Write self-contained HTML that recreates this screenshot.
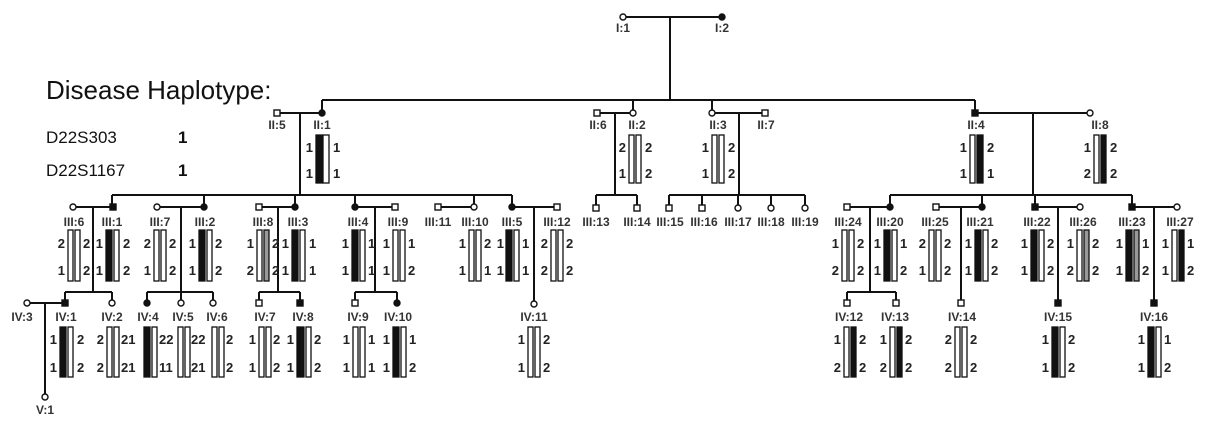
<!DOCTYPE html>
<html><head><meta charset="utf-8"><style>
html,body{margin:0;padding:0;background:#fff;}
svg{display:block;}
.l{font:bold 12px "Liberation Sans",sans-serif;fill:#333;text-anchor:middle;}
.n{font:bold 13px "Liberation Sans",sans-serif;fill:#222;}
</style></head><body>
<svg width="1207" height="424" viewBox="0 0 1207 424" xmlns="http://www.w3.org/2000/svg">
<g font-family="Liberation Sans, sans-serif" fill="#111">
<text x="46" y="99" font-size="26">Disease Haplotype:</text>
<text x="46" y="143" font-size="17">D22S303</text>
<text x="178" y="143" font-size="17" font-weight="bold">1</text>
<text x="46" y="176" font-size="17">D22S1167</text>
<text x="178" y="176" font-size="17" font-weight="bold">1</text>
</g>
<g stroke="#111" stroke-width="2" fill="none">
<line x1="623" y1="17" x2="722" y2="17"/><line x1="670" y1="17" x2="670" y2="100"/>
<line x1="322" y1="100" x2="975" y2="100"/>
<line x1="322" y1="100" x2="322" y2="113"/><line x1="633" y1="100" x2="633" y2="113"/><line x1="712" y1="100" x2="712" y2="113"/><line x1="975" y1="100" x2="975" y2="113"/>
<line x1="277" y1="113" x2="322" y2="113"/><line x1="300" y1="113" x2="300" y2="195"/>
<line x1="597" y1="113" x2="633" y2="113"/><line x1="615" y1="113" x2="615" y2="195"/>
<line x1="712" y1="113" x2="765" y2="113"/><line x1="739" y1="113" x2="739" y2="195"/>
<line x1="975" y1="113" x2="1090" y2="113"/><line x1="1033" y1="113" x2="1033" y2="195"/>
<line x1="112" y1="195" x2="512" y2="195"/>
<line x1="112" y1="195" x2="112" y2="207"/><line x1="204" y1="195" x2="204" y2="207"/><line x1="295" y1="195" x2="295" y2="207"/><line x1="355" y1="195" x2="355" y2="207"/><line x1="474" y1="195" x2="474" y2="207"/><line x1="512" y1="195" x2="512" y2="207"/>
<line x1="596" y1="195" x2="637" y2="195"/><line x1="596" y1="195" x2="596" y2="207"/><line x1="637" y1="195" x2="637" y2="207"/>
<line x1="669" y1="195" x2="805" y2="195"/>
<line x1="669" y1="195" x2="669" y2="207"/><line x1="702" y1="195" x2="702" y2="207"/><line x1="738" y1="195" x2="738" y2="207"/><line x1="771" y1="195" x2="771" y2="207"/><line x1="805" y1="195" x2="805" y2="207"/>
<line x1="890" y1="195" x2="1132" y2="195"/>
<line x1="890" y1="195" x2="890" y2="207"/><line x1="982" y1="195" x2="982" y2="207"/><line x1="1035" y1="195" x2="1035" y2="207"/><line x1="1132" y1="195" x2="1132" y2="207"/>
<line x1="73" y1="207" x2="113" y2="207"/><line x1="93" y1="207" x2="93" y2="292"/>
<line x1="157" y1="207" x2="204" y2="207"/><line x1="181" y1="207" x2="181" y2="292"/>
<line x1="259" y1="207" x2="295" y2="207"/><line x1="278" y1="207" x2="278" y2="292"/>
<line x1="355" y1="207" x2="395" y2="207"/><line x1="375" y1="207" x2="375" y2="292"/>
<line x1="438" y1="207" x2="474" y2="207"/>
<line x1="512" y1="207" x2="557" y2="207"/><line x1="534" y1="207" x2="534" y2="302"/>
<line x1="847" y1="207" x2="890" y2="207"/><line x1="870" y1="207" x2="870" y2="292"/>
<line x1="936" y1="207" x2="982" y2="207"/><line x1="961" y1="207" x2="961" y2="303"/>
<line x1="1035" y1="207" x2="1080" y2="207"/><line x1="1058" y1="207" x2="1058" y2="303"/>
<line x1="1132" y1="207" x2="1177" y2="207"/><line x1="1154" y1="207" x2="1154" y2="303"/>
<line x1="65" y1="292" x2="112" y2="292"/><line x1="65" y1="292" x2="65" y2="303"/><line x1="112" y1="292" x2="112" y2="303"/>
<line x1="147" y1="292" x2="213" y2="292"/><line x1="147" y1="292" x2="147" y2="303"/><line x1="181" y1="292" x2="181" y2="303"/><line x1="213" y1="292" x2="213" y2="303"/>
<line x1="259" y1="292" x2="300" y2="292"/><line x1="259" y1="292" x2="259" y2="303"/><line x1="300" y1="292" x2="300" y2="303"/>
<line x1="355" y1="292" x2="397" y2="292"/><line x1="355" y1="292" x2="355" y2="303"/><line x1="397" y1="292" x2="397" y2="303"/>
<line x1="847" y1="292" x2="896" y2="292"/><line x1="847" y1="292" x2="847" y2="303"/><line x1="896" y1="292" x2="896" y2="303"/>
<line x1="27" y1="303" x2="65" y2="303"/><line x1="45" y1="303" x2="45" y2="397"/>
</g>
<g stroke="#111" stroke-width="1.4">
<circle cx="623" cy="17" r="3" fill="#fff"/><circle cx="722" cy="17" r="3" fill="#111"/>
<rect x="274" y="110" width="6" height="6" fill="#fff"/><circle cx="322" cy="113" r="3" fill="#111"/>
<rect x="594" y="110" width="6" height="6" fill="#fff"/><circle cx="633" cy="113" r="3" fill="#fff"/>
<circle cx="712" cy="113" r="3" fill="#fff"/><rect x="762" y="110" width="6" height="6" fill="#fff"/>
<rect x="972" y="110" width="6" height="6" fill="#111"/><circle cx="1090" cy="113" r="3" fill="#fff"/>
<circle cx="73" cy="207" r="3" fill="#fff"/><rect x="110" y="204" width="6" height="6" fill="#111"/>
<circle cx="157" cy="207" r="3" fill="#fff"/><circle cx="204" cy="207" r="3" fill="#111"/>
<rect x="256" y="204" width="6" height="6" fill="#fff"/><circle cx="295" cy="207" r="3" fill="#111"/>
<circle cx="355" cy="207" r="3" fill="#111"/><rect x="392" y="204" width="6" height="6" fill="#fff"/>
<rect x="435" y="204" width="6" height="6" fill="#fff"/><circle cx="474" cy="207" r="3" fill="#fff"/>
<circle cx="512" cy="207" r="3" fill="#111"/><rect x="554" y="204" width="6" height="6" fill="#fff"/>
<rect x="593" y="205" width="6" height="6" fill="#fff"/><rect x="634" y="205" width="6" height="6" fill="#fff"/>
<rect x="666" y="205" width="6" height="6" fill="#fff"/><rect x="699" y="205" width="6" height="6" fill="#fff"/>
<circle cx="738" cy="208" r="3" fill="#fff"/><circle cx="771" cy="208" r="3" fill="#fff"/><circle cx="805" cy="208" r="3" fill="#fff"/>
<rect x="844" y="204" width="6" height="6" fill="#fff"/><circle cx="890" cy="207" r="3" fill="#111"/>
<rect x="933" y="204" width="6" height="6" fill="#fff"/><circle cx="982" cy="207" r="3" fill="#111"/>
<rect x="1032" y="204" width="6" height="6" fill="#111"/><circle cx="1080" cy="207" r="3" fill="#fff"/>
<rect x="1129" y="204" width="6" height="6" fill="#111"/><circle cx="1177" cy="207" r="3" fill="#fff"/>
<circle cx="27" cy="303" r="3" fill="#fff"/><rect x="62" y="300" width="6" height="6" fill="#111"/><circle cx="112" cy="303" r="3" fill="#fff"/>
<circle cx="147" cy="303" r="3" fill="#111"/><circle cx="181" cy="303" r="3" fill="#fff"/><circle cx="213" cy="303" r="3" fill="#fff"/>
<rect x="256" y="300" width="6" height="6" fill="#fff"/><rect x="297" y="300" width="6" height="6" fill="#111"/>
<rect x="352" y="300" width="6" height="6" fill="#fff"/><circle cx="397" cy="303" r="3" fill="#111"/>
<circle cx="534" cy="304" r="3" fill="#fff"/>
<rect x="844" y="300" width="6" height="6" fill="#fff"/><rect x="893" y="300" width="6" height="6" fill="#fff"/>
<rect x="958" y="300" width="6" height="6" fill="#fff"/><rect x="1055" y="300" width="6" height="6" fill="#111"/><rect x="1151" y="300" width="6" height="6" fill="#111"/>
<circle cx="45" cy="397" r="3" fill="#fff"/>
</g>
<g class="l">
<text x="623" y="32">I:1</text><text x="722" y="32">I:2</text>
<text x="277" y="129">II:5</text><text x="322" y="129">II:1</text><text x="598" y="129">II:6</text><text x="637" y="129">II:2</text>
<text x="718" y="129">II:3</text><text x="766" y="129">II:7</text><text x="976" y="129">II:4</text><text x="1100" y="129">II:8</text>
<text x="74" y="226">III:6</text><text x="112" y="226">III:1</text><text x="160" y="226">III:7</text><text x="205" y="226">III:2</text>
<text x="263" y="226">III:8</text><text x="298" y="226">III:3</text><text x="358" y="226">III:4</text><text x="398" y="226">III:9</text>
<text x="438" y="226">III:11</text><text x="475" y="226">III:10</text><text x="512" y="226">III:5</text><text x="557" y="226">III:12</text>
<text x="596" y="226">III:13</text><text x="637" y="226">III:14</text><text x="670" y="226">III:15</text><text x="704" y="226">III:16</text>
<text x="738" y="226">III:17</text><text x="771" y="226">III:18</text><text x="805" y="226">III:19</text>
<text x="848" y="226">III:24</text><text x="890" y="226">III:20</text><text x="935" y="226">III:25</text><text x="980" y="226">III:21</text>
<text x="1037" y="226">III:22</text><text x="1083" y="226">III:26</text><text x="1132" y="226">III:23</text><text x="1180" y="226">III:27</text>
<text x="22" y="321">IV:3</text><text x="66" y="321">IV:1</text><text x="112" y="321">IV:2</text><text x="148" y="321">IV:4</text>
<text x="183" y="321">IV:5</text><text x="217" y="321">IV:6</text><text x="265" y="321">IV:7</text><text x="303" y="321">IV:8</text>
<text x="358" y="321">IV:9</text><text x="398" y="321">IV:10</text><text x="534" y="321">IV:11</text>
<text x="849" y="321">IV:12</text><text x="895" y="321">IV:13</text><text x="962" y="321">IV:14</text><text x="1058" y="321">IV:15</text><text x="1154" y="321">IV:16</text>
<text x="45" y="414">V:1</text>
</g>
<g stroke="#111" stroke-width="1.3">
<rect x="316" y="135" width="6" height="48" fill="#111"/><rect x="323" y="135" width="6" height="48" fill="#fff"/>
<rect x="629" y="135" width="5" height="48" fill="#fff"/><rect x="636" y="135" width="5" height="48" fill="#fff"/>
<rect x="712" y="135" width="5" height="48" fill="#fff"/><rect x="719" y="135" width="5" height="48" fill="#fff"/>
<rect x="970" y="135" width="5" height="48" fill="#fff"/><rect x="977" y="135" width="6" height="48" fill="#111"/>
<rect x="1094" y="135" width="5" height="48" fill="#fff"/><rect x="1101" y="135" width="5" height="48" fill="#111"/>
<rect x="68" y="230" width="5" height="51" fill="#fff"/><rect x="75" y="230" width="5" height="51" fill="#fff"/>
<rect x="106" y="230" width="6" height="51" fill="#111"/><rect x="114" y="230" width="5" height="51" fill="#fff"/>
<rect x="154" y="230" width="5" height="51" fill="#fff"/><rect x="161" y="230" width="5" height="51" fill="#fff"/>
<rect x="199" y="230" width="6" height="51" fill="#111"/><rect x="207" y="230" width="5" height="51" fill="#fff"/>
<rect x="257" y="230" width="5" height="51" fill="#fff"/><rect x="264" y="230" width="5" height="51" fill="#999"/>
<rect x="292" y="230" width="6" height="51" fill="#111"/><rect x="300" y="230" width="5" height="51" fill="#fff"/>
<rect x="352" y="230" width="6" height="51" fill="#111"/><rect x="360" y="230" width="5" height="51" fill="#fff"/>
<rect x="393" y="230" width="5" height="51" fill="#fff"/><rect x="400" y="230" width="5" height="51" fill="#fff"/>
<rect x="469" y="230" width="5" height="51" fill="#fff"/><rect x="476" y="230" width="5" height="51" fill="#fff"/>
<rect x="506" y="230" width="6" height="51" fill="#111"/><rect x="514" y="230" width="5" height="51" fill="#fff"/>
<rect x="551" y="230" width="5" height="51" fill="#fff"/><rect x="558" y="230" width="5" height="51" fill="#fff"/>
<rect x="842" y="230" width="5" height="51" fill="#fff"/><rect x="849" y="230" width="5" height="51" fill="#fff"/>
<rect x="884" y="230" width="6" height="51" fill="#111"/><rect x="892" y="230" width="5" height="51" fill="#fff"/>
<rect x="929" y="230" width="5" height="51" fill="#fff"/><rect x="936" y="230" width="5" height="51" fill="#fff"/>
<rect x="975" y="230" width="6" height="51" fill="#111"/><rect x="983" y="230" width="5" height="51" fill="#fff"/>
<rect x="1031" y="230" width="6" height="51" fill="#111"/><rect x="1039" y="230" width="5" height="51" fill="#fff"/>
<rect x="1077" y="230" width="5" height="51" fill="#fff"/><rect x="1084" y="230" width="5" height="51" fill="#999"/>
<rect x="1126" y="230" width="6" height="51" fill="#111"/><rect x="1134" y="230" width="5" height="51" fill="#999"/>
<rect x="1172" y="230" width="5" height="51" fill="#fff"/><rect x="1179" y="230" width="5" height="51" fill="#111"/>
<rect x="60" y="327" width="6" height="50" fill="#111"/><rect x="68" y="327" width="5" height="50" fill="#fff"/>
<rect x="107" y="327" width="5" height="50" fill="#fff"/><rect x="114" y="327" width="5" height="50" fill="#fff"/>
<rect x="144" y="327" width="6" height="50" fill="#111"/><rect x="152" y="327" width="5" height="50" fill="#fff"/>
<rect x="178" y="327" width="5" height="50" fill="#fff"/><rect x="185" y="327" width="5" height="50" fill="#fff"/>
<rect x="212" y="327" width="5" height="50" fill="#fff"/><rect x="219" y="327" width="5" height="50" fill="#fff"/>
<rect x="259" y="327" width="5" height="50" fill="#fff"/><rect x="266" y="327" width="5" height="50" fill="#fff"/>
<rect x="297" y="327" width="7" height="50" fill="#111"/><rect x="306" y="327" width="5" height="50" fill="#fff"/>
<rect x="353" y="327" width="5" height="50" fill="#fff"/><rect x="360" y="327" width="5" height="50" fill="#fff"/>
<rect x="393" y="327" width="6" height="50" fill="#111"/><rect x="401" y="327" width="5" height="50" fill="#fff"/>
<rect x="528" y="327" width="5" height="50" fill="#fff"/><rect x="535" y="327" width="5" height="50" fill="#fff"/>
<rect x="844" y="327" width="5" height="50" fill="#fff"/><rect x="851" y="327" width="5" height="50" fill="#111"/>
<rect x="890" y="327" width="5" height="50" fill="#fff"/><rect x="897" y="327" width="5" height="50" fill="#111"/>
<rect x="955" y="327" width="5" height="50" fill="#fff"/><rect x="962" y="327" width="5" height="50" fill="#fff"/>
<rect x="1052" y="327" width="6" height="50" fill="#111"/><rect x="1060" y="327" width="5" height="50" fill="#fff"/>
<rect x="1148" y="327" width="6" height="50" fill="#111"/><rect x="1156" y="327" width="5" height="50" fill="#fff"/>
</g>
<g class="n">
<text x="313" y="152" text-anchor="end">1</text><text x="313" y="178" text-anchor="end">1</text><text x="333" y="152">1</text><text x="333" y="178">1</text>
<text x="626" y="152" text-anchor="end">2</text><text x="626" y="178" text-anchor="end">1</text><text x="645" y="152">2</text><text x="645" y="178">2</text>
<text x="709" y="152" text-anchor="end">1</text><text x="709" y="178" text-anchor="end">1</text><text x="728" y="152">2</text><text x="728" y="178">2</text>
<text x="967" y="152" text-anchor="end">1</text><text x="967" y="178" text-anchor="end">1</text><text x="987" y="152">2</text><text x="987" y="178">1</text>
<text x="1091" y="152" text-anchor="end">1</text><text x="1091" y="178" text-anchor="end">2</text><text x="1110" y="152">2</text><text x="1110" y="178">2</text>
<text x="65" y="248" text-anchor="end">2</text><text x="65" y="275" text-anchor="end">1</text><text x="83" y="248">2</text><text x="83" y="275">2</text>
<text x="103" y="248" text-anchor="end">1</text><text x="103" y="275" text-anchor="end">1</text><text x="123" y="248">2</text><text x="123" y="275">2</text>
<text x="151" y="248" text-anchor="end">2</text><text x="151" y="275" text-anchor="end">1</text><text x="169" y="248">2</text><text x="169" y="275">2</text>
<text x="196" y="248" text-anchor="end">1</text><text x="196" y="275" text-anchor="end">1</text><text x="215" y="248">2</text><text x="215" y="275">2</text>
<text x="254" y="248" text-anchor="end">1</text><text x="254" y="275" text-anchor="end">2</text><text x="272" y="248">2</text><text x="272" y="275">2</text>
<text x="289" y="248" text-anchor="end">1</text><text x="289" y="275" text-anchor="end">1</text><text x="309" y="248">1</text><text x="309" y="275">1</text>
<text x="349" y="248" text-anchor="end">1</text><text x="349" y="275" text-anchor="end">1</text><text x="368" y="248">1</text><text x="368" y="275">1</text>
<text x="390" y="248" text-anchor="end">1</text><text x="390" y="275" text-anchor="end">1</text><text x="408" y="248">1</text><text x="408" y="275">2</text>
<text x="466" y="248" text-anchor="end">1</text><text x="466" y="275" text-anchor="end">1</text><text x="484" y="248">2</text><text x="484" y="275">1</text>
<text x="504" y="248" text-anchor="end">1</text><text x="504" y="275" text-anchor="end">1</text><text x="522" y="248">1</text><text x="522" y="275">1</text>
<text x="548" y="248" text-anchor="end">2</text><text x="548" y="275" text-anchor="end">2</text><text x="566" y="248">2</text><text x="566" y="275">2</text>
<text x="839" y="248" text-anchor="end">1</text><text x="839" y="275" text-anchor="end">2</text><text x="857" y="248">2</text><text x="857" y="275">2</text>
<text x="881" y="248" text-anchor="end">1</text><text x="881" y="275" text-anchor="end">1</text><text x="900" y="248">1</text><text x="900" y="275">2</text>
<text x="926" y="248" text-anchor="end">2</text><text x="926" y="275" text-anchor="end">1</text><text x="944" y="248">2</text><text x="944" y="275">2</text>
<text x="972" y="248" text-anchor="end">1</text><text x="972" y="275" text-anchor="end">1</text><text x="991" y="248">2</text><text x="991" y="275">2</text>
<text x="1028" y="248" text-anchor="end">1</text><text x="1028" y="275" text-anchor="end">1</text><text x="1047" y="248">2</text><text x="1047" y="275">2</text>
<text x="1074" y="248" text-anchor="end">1</text><text x="1074" y="275" text-anchor="end">2</text><text x="1092" y="248">2</text><text x="1092" y="275">2</text>
<text x="1123" y="248" text-anchor="end">1</text><text x="1123" y="275" text-anchor="end">1</text><text x="1142" y="248">1</text><text x="1142" y="275">2</text>
<text x="1169" y="248" text-anchor="end">1</text><text x="1169" y="275" text-anchor="end">1</text><text x="1187" y="248">1</text><text x="1187" y="275">2</text>
<text x="57" y="344" text-anchor="end">1</text><text x="57" y="372" text-anchor="end">1</text><text x="77" y="344">2</text><text x="77" y="372">2</text>
<text x="104" y="344" text-anchor="end">2</text><text x="104" y="372" text-anchor="end">2</text><text x="121" y="344">21</text><text x="121" y="372">21</text>
<text x="159" y="344">22</text><text x="159" y="372">11</text>
<text x="191" y="344">22</text><text x="191" y="372">21</text>
<text x="226" y="344">2</text><text x="226" y="372">2</text>
<text x="256" y="344" text-anchor="end">1</text><text x="256" y="372" text-anchor="end">1</text><text x="273" y="344">2</text><text x="273" y="372">2</text>
<text x="294" y="344" text-anchor="end">1</text><text x="294" y="372" text-anchor="end">1</text><text x="314" y="344">2</text><text x="314" y="372">2</text>
<text x="350" y="344" text-anchor="end">1</text><text x="350" y="372" text-anchor="end">1</text><text x="368" y="344">1</text><text x="368" y="372">1</text>
<text x="390" y="344" text-anchor="end">1</text><text x="390" y="372" text-anchor="end">1</text><text x="409" y="344">1</text><text x="409" y="372">2</text>
<text x="525" y="344" text-anchor="end">1</text><text x="525" y="372" text-anchor="end">1</text><text x="543" y="344">2</text><text x="543" y="372">2</text>
<text x="841" y="344" text-anchor="end">1</text><text x="841" y="372" text-anchor="end">2</text><text x="859" y="344">2</text><text x="859" y="372">2</text>
<text x="887" y="344" text-anchor="end">1</text><text x="887" y="372" text-anchor="end">2</text><text x="905" y="344">2</text><text x="905" y="372">2</text>
<text x="952" y="344" text-anchor="end">2</text><text x="952" y="372" text-anchor="end">2</text><text x="970" y="344">2</text><text x="970" y="372">2</text>
<text x="1049" y="344" text-anchor="end">1</text><text x="1049" y="372" text-anchor="end">1</text><text x="1068" y="344">2</text><text x="1068" y="372">2</text>
<text x="1145" y="344" text-anchor="end">1</text><text x="1145" y="372" text-anchor="end">1</text><text x="1164" y="344">1</text><text x="1164" y="372">2</text>
</g>
</svg>
</body></html>
